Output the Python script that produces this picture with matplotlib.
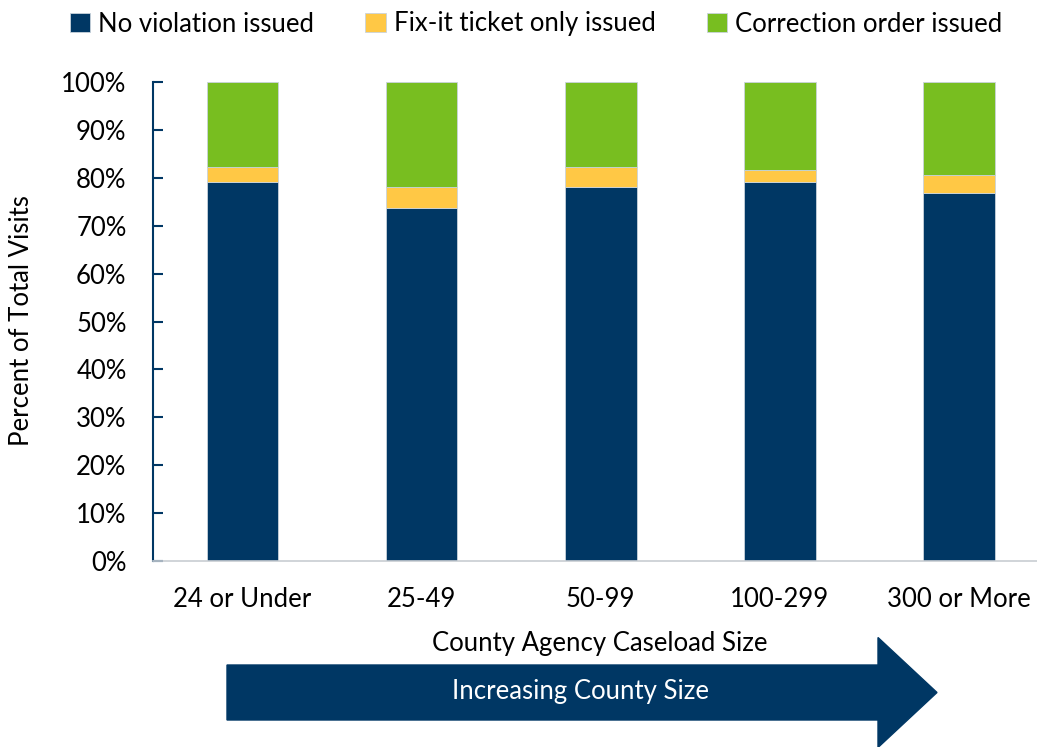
import numpy as np
import matplotlib.pyplot as plt
from matplotlib.patches import FancyArrow

categories = ["24 or Under", "25-49", "50-99", "100-299", "300 or More"]
no_violation = [79.1, 73.6, 78.1, 79.2, 76.9]
fix_it_only = [3.2, 4.5, 4.2, 2.4, 3.6]
correction_order = [17.7, 21.9, 17.7, 18.4, 19.5]

series_names = ["No violation issued", "Fix-it ticket only issued", "Correction order issued"]
colors = ["#003764", "#FFC845", "#78BE20"]
navy = "#003764"

plt.rcParams["font.family"] = ["Lato", "DejaVu Sans"]
fs = 18.5

fig = plt.figure(figsize=(10.37, 7.47), dpi=100)
ax = fig.add_axes([153 / 1037, 1 - 561 / 747, (1048.5 - 153) / 1037, (561 - 82) / 747])

x = np.arange(len(categories))
bottom = np.zeros(len(categories))
handles = []
for vals, name, c in zip([no_violation, fix_it_only, correction_order], series_names, colors):
    b = ax.bar(x, vals, width=0.4, bottom=bottom, color=c, label=name,
               edgecolor="#c9d3dc", linewidth=0.6)
    handles.append(b)
    bottom += np.array(vals)

ax.set_xlim(-0.5, len(categories) - 0.5)
ax.set_ylim(0, 100)
ax.set_yticks(range(0, 101, 10))
ax.set_yticklabels([f"{v}%" for v in range(0, 101, 10)], fontsize=fs)
ax.set_xticks(x)
ax.set_xticklabels(categories, fontsize=fs)
ax.tick_params(axis="y", direction="in", length=7, width=1.5, color=navy, pad=19)
ax.tick_params(axis="x", length=0, pad=19)

for s in ["top", "right"]:
    ax.spines[s].set_visible(False)
ax.spines["left"].set_color(navy)
ax.spines["left"].set_linewidth(1.5)
ax.spines["bottom"].set_color("#c8cdd2")
ax.spines["bottom"].set_linewidth(1.2)

fig.text(22 / 1037, 1 - 321 / 747, "Percent of Total Visits", rotation=90,
         fontsize=fs, ha="center", va="center")
fig.text(600 / 1037, 1 - 643 / 747, "County Agency Caseload Size",
         fontsize=fs, ha="center", va="center")

# arrow below the axis
fig.patches.append(FancyArrow(227 / 1037, 1 - 692.5 / 747, 710 / 1037, 0,
                              width=55 / 747, head_width=110 / 747,
                              head_length=59 / 1037, length_includes_head=True,
                              color=navy, transform=fig.transFigure, figure=fig))
fig.text(580 / 1037, 1 - 692 / 747, "Increasing County Size", color="white",
         fontsize=fs, ha="center", va="center")

fig.legend(handles=handles, labels=series_names, loc="center",
           bbox_to_anchor=(536 / 1037, 1 - 24 / 747), ncol=3, frameon=False,
           fontsize=fs, handlelength=0.8, handleheight=0.8, handletextpad=0.3,
           columnspacing=2.0)

fig.savefig("out.png", dpi=100)
